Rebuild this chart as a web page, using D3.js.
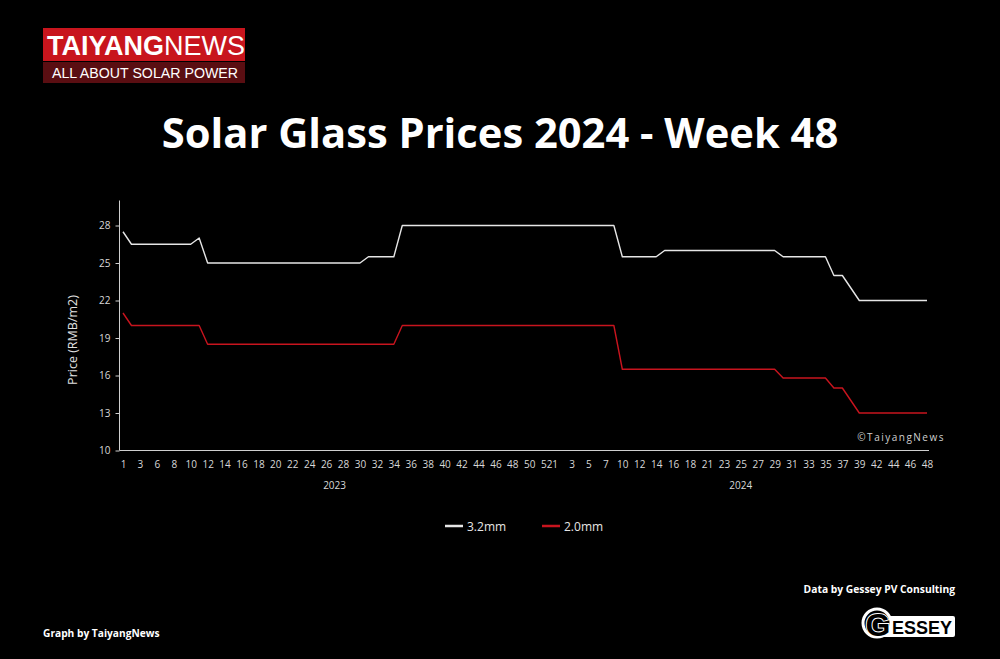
<!DOCTYPE html>
<html>
<head>
<meta charset="utf-8">
<script src="https://cdn.jsdelivr.net/npm/d3@7"></script>
<style>
  html, body { margin: 0; padding: 0; background: #000; }
  svg { display: block; }
</style>
</head>
<body>
<script>
// week labels per year (some weeks are missing in the source series)
const weeks2023 = [1, 2, 3, 4, 6, 7, 8, 9, 10, 11, 12, 13, 14, 15, 16, 17, 18, 19, 20, 21, 22, 23, 24, 25, 26,
  27, 28, 29, 30, 31, 32, 33, 34, 35, 36, 37, 38, 39, 40, 41, 42, 43, 44, 45, 46, 47, 48, 49, 50, 51, 52];
const weeks2024 = [1, 2, 3, 4, 5, 6, 7, 8, 10, 11, 12, 13, 14, 15, 16, 17, 18, 19, 21, 22, 23, 24, 25, 26, 27,
  28, 29, 30, 31, 32, 33, 34, 35, 36, 37, 38, 39, 40, 42, 43, 44, 45, 46, 47, 48];

// prices RMB/m2
const glass32_2023 = [27.5, 26.5, 26.5, 26.5, 26.5, 26.5, 26.5, 26.5, 26.5, 27, 25, 25, 25, 25, 25, 25, 25, 25, 25,
  25, 25, 25, 25, 25, 25, 25, 25, 25, 25, 25.5, 25.5, 25.5, 25.5, 28, 28, 28, 28, 28, 28, 28, 28, 28, 28, 28, 28,
  28, 28, 28, 28, 28, 28];
const glass32_2024 = [28, 28, 28, 28, 28, 28, 28, 28, 25.5, 25.5, 25.5, 25.5, 25.5, 26, 26, 26, 26, 26, 26, 26,
  26, 26, 26, 26, 26, 26, 26, 25.5, 25.5, 25.5, 25.5, 25.5, 25.5, 24, 24, 23, 22, 22, 22, 22, 22, 22, 22, 22, 22];
const glass20_2023 = [21, 20, 20, 20, 20, 20, 20, 20, 20, 20, 18.5, 18.5, 18.5, 18.5, 18.5, 18.5, 18.5, 18.5, 18.5,
  18.5, 18.5, 18.5, 18.5, 18.5, 18.5, 18.5, 18.5, 18.5, 18.5, 18.5, 18.5, 18.5, 18.5, 20, 20, 20, 20, 20, 20, 20,
  20, 20, 20, 20, 20, 20, 20, 20, 20, 20, 20];
const glass20_2024 = [20, 20, 20, 20, 20, 20, 20, 20, 16.5, 16.5, 16.5, 16.5, 16.5, 16.5, 16.5, 16.5, 16.5, 16.5,
  16.5, 16.5, 16.5, 16.5, 16.5, 16.5, 16.5, 16.5, 16.5, 15.8, 15.8, 15.8, 15.8, 15.8, 15.8, 15, 15, 14, 13, 13, 13,
  13, 13, 13, 13, 13, 13];

const years = ['2023', '2024'];
const yTicks = [10, 13, 16, 19, 22, 25, 28];
const seriesNames = ['3.2mm', '2.0mm'];
const seriesColors = ['#e6e6e6', '#c8141e'];

const width = 1000, height = 659;
const font = "'Open Sans', 'DejaVu Sans', sans-serif";

// build the category list
const cats = [];
weeks2023.forEach((w, i) => cats.push({key: '2023-' + i, week: w, year: '2023', pos: i}));
weeks2024.forEach((w, i) => cats.push({key: '2024-' + i, week: w, year: '2024', pos: i}));
const series = [
  glass32_2023.concat(glass32_2024),
  glass20_2023.concat(glass20_2024)
];

const svg = d3.select('body').append('svg')
  .attr('width', width).attr('height', height)
  .style('background', '#000');

// scales
const x = d3.scalePoint().domain(cats.map(d => d.key)).range([123, 927]);
const y = d3.scaleLinear().domain([10, 30]).range([450.5, 200.5]);

// logo
const logo = svg.append('g');
logo.append('rect').attr('x', 43).attr('y', 28).attr('width', 202).attr('height', 33).attr('fill', '#c8151d');
logo.append('rect').attr('x', 43).attr('y', 62).attr('width', 202).attr('height', 21).attr('fill', '#5a0e12');
const lt = logo.append('text').attr('x', 47).attr('y', 55)
  .attr('font-family', "'Liberation Sans', Arial, sans-serif").attr('font-size', 27).attr('fill', '#fff');
lt.append('tspan').attr('font-weight', 700).text('TAIYANG');
lt.append('tspan').attr('font-weight', 300).text('NEWS');
logo.append('text').attr('x', 145).attr('y', 78).attr('text-anchor', 'middle')
  .attr('font-family', "'Liberation Sans', Arial, sans-serif").attr('font-size', 14.2)
  .attr('fill', '#fff').text('ALL ABOUT SOLAR POWER');

// title
svg.append('text').attr('x', 500).attr('y', 148).attr('text-anchor', 'middle')
  .attr('font-family', font).attr('font-weight', 700).attr('font-size', 41.7).attr('fill', '#fff')
  .text('Solar Glass Prices 2024 - Week 48');

// y axis
const yAxis = svg.append('g').attr('transform', 'translate(119.5,0)')
  .call(d3.axisLeft(y).tickValues(yTicks).tickSize(4).tickPadding(5));
yAxis.select('.domain').attr('stroke', '#cfcfcf').attr('d', 'M-0,200.5V450.5');
yAxis.selectAll('.tick line').attr('stroke', '#cfcfcf');
yAxis.selectAll('.tick text').attr('fill', '#d8d8d8').attr('font-family', font).attr('font-size', 10);

svg.append('text').attr('transform', 'translate(77,340) rotate(-90)').attr('text-anchor', 'middle')
  .attr('font-family', font).attr('font-size', 12.5).attr('fill', '#e0e0e0').text('Price (RMB/m2)');

// x axis: every second week label within each year
const xAxis = svg.append('g').attr('transform', 'translate(0,450.5)')
  .call(d3.axisBottom(x)
    .tickValues(cats.filter(d => d.pos % 2 === 0).map(d => d.key))
    .tickFormat(k => cats.find(d => d.key === k).week)
    .tickSize(0).tickPadding(10));
xAxis.select('.domain').attr('stroke', '#cfcfcf').attr('d', 'M119.5,0H929');
xAxis.selectAll('.tick text').attr('fill', '#d8d8d8').attr('font-family', font).attr('font-size', 10);

// year group labels
years.forEach(yr => {
  const c = cats.filter(d => d.year === yr);
  const cx = (x(c[0].key) + x(c[c.length - 1].key)) / 2;
  svg.append('text').attr('x', cx).attr('y', 489).attr('text-anchor', 'middle')
    .attr('font-family', font).attr('font-size', 10).attr('fill', '#d8d8d8').text(yr);
});

// lines
const line = d3.line().x((d, i) => x(cats[i].key)).y(d => y(d));
series.forEach((s, i) => {
  svg.append('path').datum(s).attr('d', line)
    .attr('fill', 'none').attr('stroke', seriesColors[i]).attr('stroke-width', 1.4)
    .attr('stroke-linejoin', 'round');
});

// watermark
svg.append('text').attr('x', 945).attr('y', 441).attr('text-anchor', 'end')
  .attr('font-family', font).attr('font-size', 10).attr('letter-spacing', 1.5)
  .attr('fill', '#d0d0d0').text('\u00A9TaiyangNews');

// legend
const leg = svg.append('g').attr('transform', 'translate(445,526)');
seriesNames.forEach((n, i) => {
  const g = leg.append('g').attr('transform', `translate(${i * 97},0)`);
  g.append('line').attr('x1', 0).attr('x2', 18).attr('y1', 0).attr('y2', 0)
    .attr('stroke', seriesColors[i]).attr('stroke-width', 2.5);
  g.append('text').attr('x', 22).attr('y', 4.5).attr('font-family', font).attr('font-size', 12)
    .attr('fill', '#e6e6e6').text(n);
});

// footer
svg.append('text').attr('x', 43).attr('y', 637).attr('font-family', font).attr('font-weight', 700)
  .attr('font-size', 10.2).attr('fill', '#fff').text('Graph by TaiyangNews');
svg.append('text').attr('x', 955).attr('y', 593).attr('text-anchor', 'end').attr('font-family', font)
  .attr('font-weight', 700).attr('font-size', 10.3).attr('fill', '#fff').text('Data by Gessey PV Consulting');

// gessey logo
const gl = svg.append('g');
gl.append('rect').attr('x', 877).attr('y', 616).attr('width', 78).attr('height', 21).attr('rx', 2).attr('fill', '#fff');
gl.append('text').attr('x', 892).attr('y', 634).attr('font-family', "'Liberation Sans', Arial, sans-serif")
  .attr('font-weight', 700).attr('font-size', 18).attr('fill', '#000').text('ESSEY');
gl.append('circle').attr('cx', 877).attr('cy', 623).attr('r', 14).attr('fill', '#000')
  .attr('stroke', '#fff').attr('stroke-width', 3);
gl.append('text').attr('x', 878).attr('y', 636).attr('text-anchor', 'middle')
  .attr('font-family', "'Liberation Sans', Arial, sans-serif").attr('font-weight', 700).attr('font-size', 32)
  .attr('fill', '#000').attr('stroke', '#fff').attr('stroke-width', 2).attr('paint-order', 'stroke')
  .text('G');
</script>
</body>
</html>
